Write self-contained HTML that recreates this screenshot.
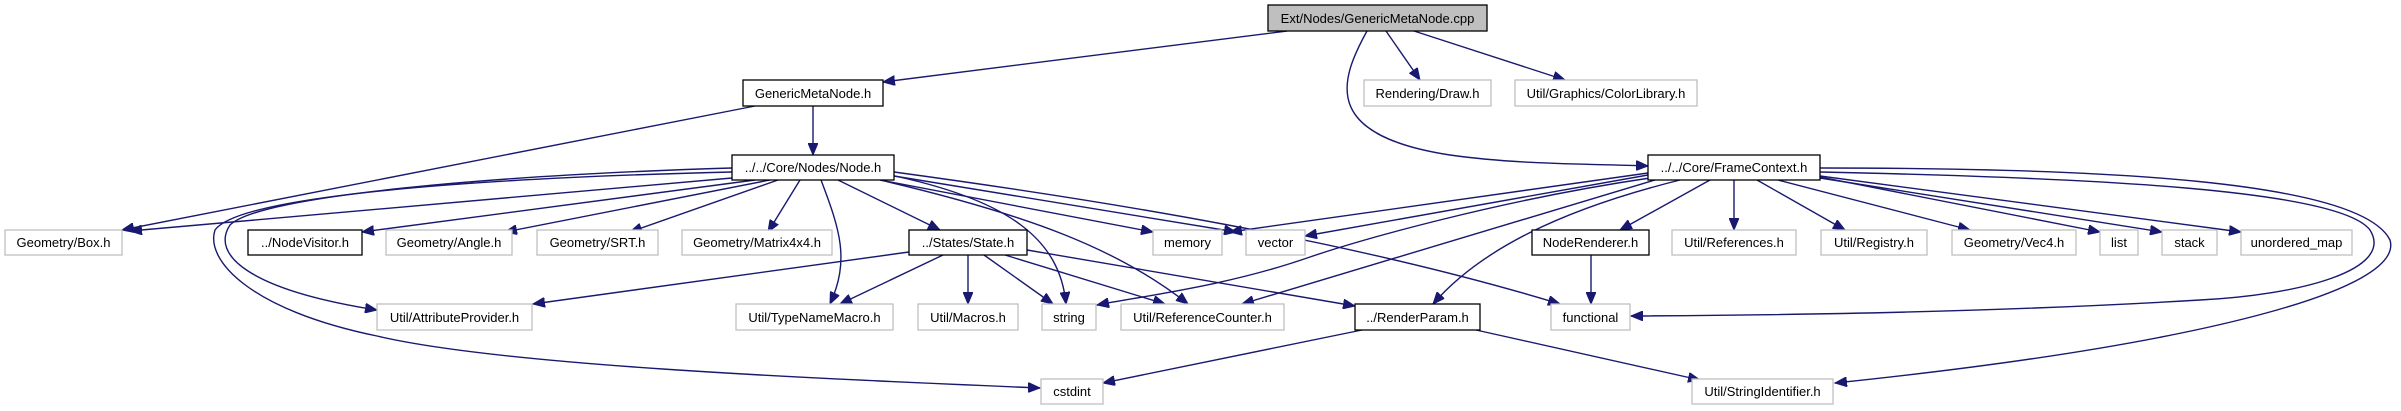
<!DOCTYPE html>
<html><head><meta charset="utf-8"><style>
html,body{margin:0;padding:0;background:#fff}
svg{display:block}
text{font-family:"Liberation Sans",sans-serif;font-size:13px;fill:#000}
.e{fill:none;stroke:#191970;stroke-width:1.4}
.g{fill:#fff;stroke:#bfbfbf;stroke-width:1.3}
.b{fill:#fff;stroke:#000;stroke-width:1.3}
</style></head><body>
<svg width="2401" height="411" viewBox="0 0 2401 411" xmlns="http://www.w3.org/2000/svg">
<defs>
<marker id="a" markerUnits="userSpaceOnUse" markerWidth="14" markerHeight="10" refX="12" refY="5" orient="auto">
<path d="M0,0 L12,5 L0,10 Z" fill="#191970" stroke="#191970"/>
</marker>
</defs>
<g marker-end="url(#a)">
<!-- top -->
<path class="e" d="M1287,31 L883,82"/>
<path class="e" d="M1386,31 L1420,80"/>
<path class="e" d="M1414,31 L1565,80"/>
<path class="e" d="M1367,31 C1340,80 1320,135 1450,155 C1520,165 1600,164 1648,166"/>
<!-- GenericMetaNode.h -->
<path class="e" d="M813,106 L813,155"/>
<path class="e" d="M755,106 L122,230"/>
<!-- Node.h -->
<path class="e" d="M732,178 L130,231"/>
<path class="e" d="M755,180 L362,232"/>
<path class="e" d="M770,180 L505,232"/>
<path class="e" d="M778,180 L630,232"/>
<path class="e" d="M800,180 L768,232"/>
<path class="e" d="M821,180 C840,230 850,260 830,304"/>
<path class="e" d="M838,180 L940,230"/>
<path class="e" d="M890,175 C1010,200 1060,240 1066,304"/>
<path class="e" d="M880,180 C1030,215 1120,250 1188,304"/>
<path class="e" d="M880,180 L1153,232"/>
<path class="e" d="M894,176 L1236,232"/>
<path class="e" d="M894,172 C1100,200 1350,240 1560,304"/>
<path class="e" d="M732,168 C500,175 260,195 230,225 C210,255 250,290 377,310"/>
<path class="e" d="M732,172 C480,178 240,195 215,230 C205,260 250,310 377,336 C500,365 800,378 1040,388"/>
<!-- State.h -->
<path class="e" d="M909,252 L533,304"/>
<path class="e" d="M943,255 L840,304"/>
<path class="e" d="M968,255 L968,304"/>
<path class="e" d="M984,255 L1053,304"/>
<path class="e" d="M1005,255 L1165,304"/>
<path class="e" d="M1027,250 L1355,306"/>
<!-- RenderParam -->
<path class="e" d="M1362,330 L1103,383"/>
<path class="e" d="M1476,330 L1700,380"/>
<!-- NodeRenderer -->
<path class="e" d="M1591,255 L1591,304"/>
<!-- FrameContext -->
<path class="e" d="M1648,173 L1230,232"/>
<path class="e" d="M1648,175 L1305,236"/>
<path class="e" d="M1650,178 C1500,200 1360,240 1310,257 C1230,285 1150,295 1097,305"/>
<path class="e" d="M1655,180 L1242,304"/>
<path class="e" d="M1680,180 C1560,210 1480,250 1433,304"/>
<path class="e" d="M1710,180 L1620,230"/>
<path class="e" d="M1734,180 L1734,230"/>
<path class="e" d="M1757,180 L1845,230"/>
<path class="e" d="M1778,180 L1970,230"/>
<path class="e" d="M1820,177 L2100,232"/>
<path class="e" d="M1820,178 L2162,232"/>
<path class="e" d="M1820,176 L2241,232"/>
<path class="e" d="M1820,172 C2100,178 2340,190 2370,230 C2395,270 2300,295 2200,300 C2000,312 1800,315 1631,316"/>
<path class="e" d="M1820,168 C2100,168 2360,180 2390,240 C2405,290 2200,345 1835,383"/>
</g>
<!-- nodes -->
<rect x="1268" y="5" width="219" height="26" fill="#bfbfbf" stroke="#000" stroke-width="1.3"/>
<text x="1377.5" y="23" text-anchor="middle">Ext/Nodes/GenericMetaNode.cpp</text>

<rect class="b" x="743" y="80" width="140" height="26"/><text x="813" y="98" text-anchor="middle">GenericMetaNode.h</text>
<rect class="g" x="1364" y="80" width="127" height="26"/><text x="1427.5" y="98" text-anchor="middle">Rendering/Draw.h</text>
<rect class="g" x="1515" y="80" width="182" height="26"/><text x="1606" y="98" text-anchor="middle">Util/Graphics/ColorLibrary.h</text>

<rect class="b" x="732" y="155" width="162" height="25"/><text x="813" y="172" text-anchor="middle">../../Core/Nodes/Node.h</text>
<rect class="b" x="1648" y="155" width="172" height="25"/><text x="1734" y="172" text-anchor="middle">../../Core/FrameContext.h</text>

<rect class="g" x="5" y="230" width="117" height="25"/><text x="63.5" y="247" text-anchor="middle">Geometry/Box.h</text>
<rect class="b" x="248" y="230" width="114" height="25"/><text x="305" y="247" text-anchor="middle">../NodeVisitor.h</text>
<rect class="g" x="386" y="230" width="126" height="25"/><text x="449" y="247" text-anchor="middle">Geometry/Angle.h</text>
<rect class="g" x="537" y="230" width="121" height="25"/><text x="597.5" y="247" text-anchor="middle">Geometry/SRT.h</text>
<rect class="g" x="682" y="230" width="150" height="25"/><text x="757" y="247" text-anchor="middle">Geometry/Matrix4x4.h</text>
<rect class="b" x="909" y="230" width="118" height="25"/><text x="968" y="247" text-anchor="middle">../States/State.h</text>
<rect class="g" x="1153" y="230" width="69" height="25"/><text x="1187.5" y="247" text-anchor="middle">memory</text>
<rect class="g" x="1246" y="230" width="59" height="25"/><text x="1275.5" y="247" text-anchor="middle">vector</text>
<rect class="b" x="1532" y="230" width="117" height="25"/><text x="1590.5" y="247" text-anchor="middle">NodeRenderer.h</text>
<rect class="g" x="1672" y="230" width="124" height="25"/><text x="1734" y="247" text-anchor="middle">Util/References.h</text>
<rect class="g" x="1821" y="230" width="106" height="25"/><text x="1874" y="247" text-anchor="middle">Util/Registry.h</text>
<rect class="g" x="1952" y="230" width="124" height="25"/><text x="2014" y="247" text-anchor="middle">Geometry/Vec4.h</text>
<rect class="g" x="2100" y="230" width="38" height="25"/><text x="2119" y="247" text-anchor="middle">list</text>
<rect class="g" x="2162" y="230" width="55" height="25"/><text x="2189.5" y="247" text-anchor="middle">stack</text>
<rect class="g" x="2241" y="230" width="111" height="25"/><text x="2296.5" y="247" text-anchor="middle">unordered_map</text>

<rect class="g" x="377" y="304" width="155" height="26"/><text x="454.5" y="322" text-anchor="middle">Util/AttributeProvider.h</text>
<rect class="g" x="736" y="304" width="157" height="26"/><text x="814.5" y="322" text-anchor="middle">Util/TypeNameMacro.h</text>
<rect class="g" x="918" y="304" width="100" height="26"/><text x="968" y="322" text-anchor="middle">Util/Macros.h</text>
<rect class="g" x="1042" y="304" width="54" height="26"/><text x="1069" y="322" text-anchor="middle">string</text>
<rect class="g" x="1121" y="304" width="163" height="26"/><text x="1202.5" y="322" text-anchor="middle">Util/ReferenceCounter.h</text>
<rect class="b" x="1355" y="304" width="125" height="26"/><text x="1417.5" y="322" text-anchor="middle">../RenderParam.h</text>
<rect class="g" x="1551" y="304" width="79" height="26"/><text x="1590.5" y="322" text-anchor="middle">functional</text>

<rect class="g" x="1041" y="379" width="62" height="25"/><text x="1072" y="396" text-anchor="middle">cstdint</text>
<rect class="g" x="1692" y="379" width="141" height="25"/><text x="1762.5" y="396" text-anchor="middle">Util/StringIdentifier.h</text>
</svg>
</body></html>
